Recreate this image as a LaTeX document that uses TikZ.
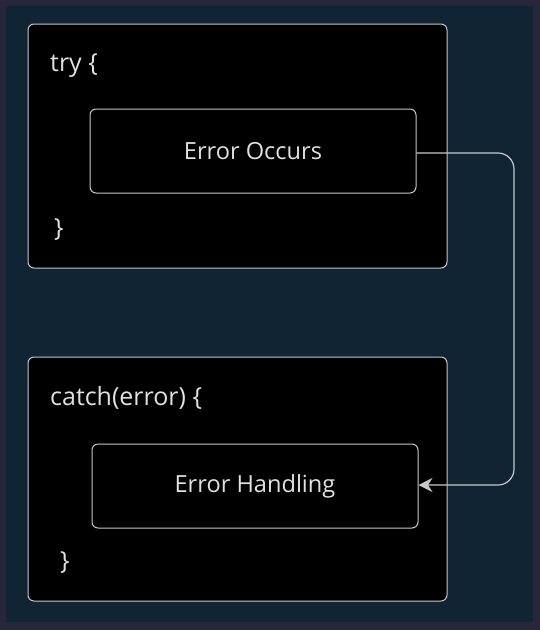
\documentclass[tikz,border=0pt]{standalone}
\usepackage{fontspec}
\setmainfont{Open Sans}
\usepackage{tikz}
\usetikzlibrary{arrows,arrows.meta,positioning}
\usepackage{xcolor}
\definecolor{edgeframe}{RGB}{40,38,58}
\definecolor{navybg}{RGB}{16,36,52}
\definecolor{linegray}{RGB}{200,200,200}
\definecolor{textgray}{RGB}{225,225,225}
\tikzstyle{block} = [draw=linegray, fill=black, rounded corners=6pt, line width=1pt, inner sep=0pt, minimum width=419pt, minimum height=244pt]
\tikzstyle{inner} = [draw=linegray, fill=black, rounded corners=6pt, line width=1pt, minimum width=326pt, minimum height=84pt, text=textgray, font=\fontsize{23.6}{27}\selectfont]
\tikzstyle{code} = [text=textgray, font=\fontsize{25}{29}\selectfont, anchor=west, inner sep=0pt]
\tikzstyle{arrow} = [line width=1.2pt, color=linegray, rounded corners=16pt, -{Stealth[length=14pt,width=14pt]}]

\begin{document}
\begin{tikzpicture}[x=1pt,y=-1pt]
% background
\fill[edgeframe] (0,0) rectangle (540,630);
\fill[navybg] (6,6) rectangle (533,622);
\useasboundingbox (0,0) rectangle (540,630);

% try block
\node[block] (tryblock) at (237.5,146) {};
\node[code] (tryopen) at (50,66) {try \{};
\node[code] (tryclose) at (54,230) {\}};
\node[inner] (occurs) at (253,151) {Error Occurs};

% catch block
\node[block] (catchblock) at (237.5,479) {};
\node[code] (catchopen) at (50,398) {catch(error) \{};
\node[code] (catchclose) at (60,563) {\}};
\node[inner] (handling) at (255,486) {Error Handling};

% jump to handler
\coordinate (bendtop) at (514,153);
\coordinate (bendbot) at (514,485);
\draw[arrow] (occurs.east |- 0,153) -- (bendtop) -- (bendbot) -- (handling.east |- 0,485);
\end{tikzpicture}
\end{document}
